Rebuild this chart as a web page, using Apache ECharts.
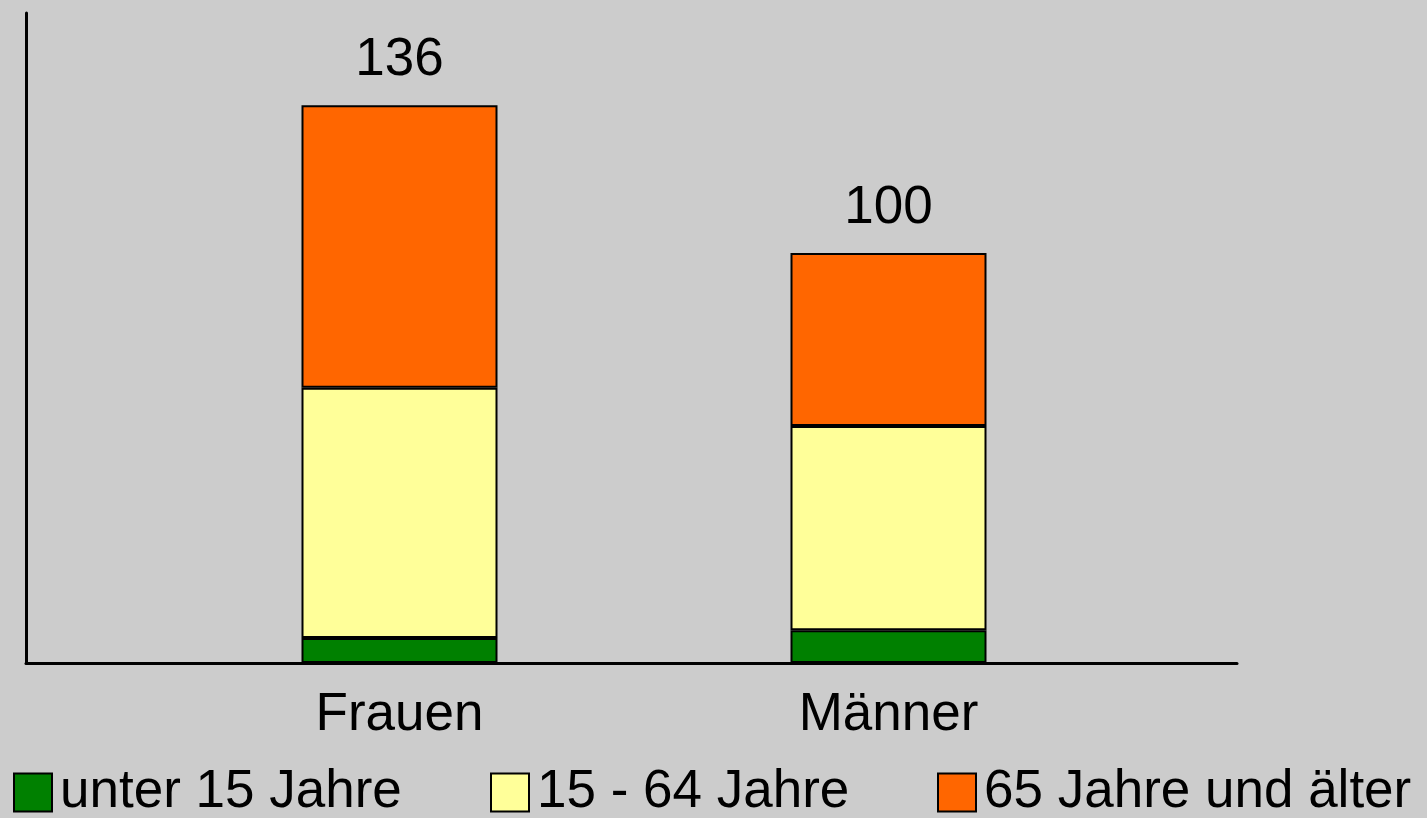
<!DOCTYPE html>
<html>
<head>
<meta charset="utf-8">
<script src="https://cdn.jsdelivr.net/npm/echarts@6/dist/echarts.min.js"></script>
<style>
  html, body { margin: 0; padding: 0; background: #cccccc; }
  #chart { width: 1427px; height: 818px; }
</style>
</head>
<body>
<div id="chart"></div>
<script>
var categories = ['Frauen', 'Männer'];
var seriesNames = ['unter 15 Jahre', '15 - 64 Jahre', '65 Jahre und älter'];
var under15 = [6.1, 8.0];
var age15to64 = [61.0, 49.8];
var over65 = [68.9, 42.2];
var totals = [136, 100];
var colors = ['#008000', '#ffff99', '#ff6600'];

var dom = document.getElementById('chart');
var myChart = echarts.init(dom, null, { renderer: 'canvas' });
var font = '"Liberation Sans", Arial, Helvetica, sans-serif';

function bar(name, values, color, withTotal) {
  var s = {
    name: name,
    type: 'bar',
    stack: 'total',
    xAxisIndex: 0,
    yAxisIndex: 0,
    barWidth: 196,
    data: values,
    itemStyle: { color: color, borderColor: '#000', borderWidth: 2 }
  };
  if (withTotal) {
    s.label = {
      show: true,
      position: 'top',
      distance: 18,
      color: '#000',
      fontFamily: font,
      fontSize: 53,
      formatter: function (p) { return totals[p.dataIndex]; }
    };
  }
  return s;
}

function legendAt(left, name) {
  return {
    left: left,
    top: 766,
    data: [name],
    icon: 'rect',
    itemWidth: 38,
    itemHeight: 38,
    itemGap: 0,
    padding: 0,
    textStyle: { fontFamily: font, fontSize: 53, color: '#000', padding: [0, 0, 0, 3] }
  };
}

var option = {
  backgroundColor: '#cccccc',
  animation: false,
  legend: [
    legendAt(13, seriesNames[0]),
    legendAt(490, seriesNames[1]),
    legendAt(937, seriesNames[2])
  ],
  grid: [
    { left: 155, width: 978, top: 13, bottom: 155 },
    { left: 26, right: 190, top: 13, bottom: 155 }
  ],
  xAxis: [
    {
      gridIndex: 0,
      type: 'category',
      data: categories,
      axisLine: { show: false },
      axisTick: { show: false },
      axisLabel: { color: '#000', fontFamily: font, fontSize: 53, margin: 26 }
    },
    {
      gridIndex: 1,
      type: 'category',
      data: [],
      axisLine: { show: true, lineStyle: { color: '#000', width: 3 } },
      axisTick: { show: false },
      axisLabel: { show: false }
    }
  ],
  yAxis: [
    {
      gridIndex: 0,
      type: 'value',
      min: 0,
      max: 158.5,
      axisLine: { show: false },
      axisLabel: { show: false },
      splitLine: { show: false }
    },
    {
      gridIndex: 1,
      type: 'value',
      min: 0,
      max: 158.5,
      axisLine: { show: true, lineStyle: { color: '#000', width: 3 } },
      axisTick: { show: false },
      axisLabel: { show: false },
      splitLine: { show: false }
    }
  ],
  series: [
    bar(seriesNames[0], under15, colors[0], false),
    bar(seriesNames[1], age15to64, colors[1], false),
    bar(seriesNames[2], over65, colors[2], true)
  ]
};

myChart.setOption(option);
window.addEventListener('resize', myChart.resize);
</script>
</body>
</html>
